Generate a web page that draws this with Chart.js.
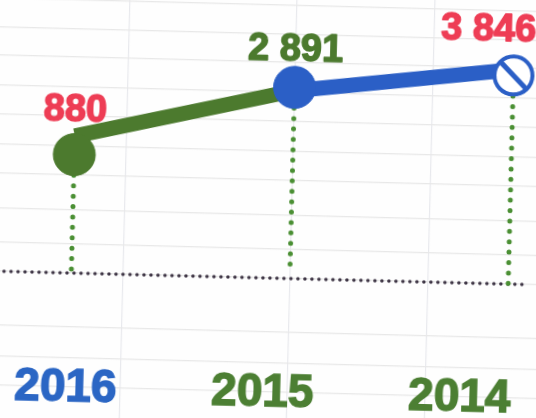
<!DOCTYPE html>
<html><head><meta charset="utf-8">
<style>
html,body{margin:0;padding:0;width:536px;height:418px;overflow:hidden;background:#fefefe}
#wrap{position:absolute;left:-32px;top:-31px;width:600px;height:480px;transform:rotate(1.45deg);transform-origin:300px 240px}
</style>
<script src="https://cdn.jsdelivr.net/npm/chart.js@4/dist/chart.umd.min.js"></script>
</head><body>
<div id="wrap"><canvas id="c" width="600" height="480"></canvas></div>
<script>
const years = [2016, 2015, 2014];
const values = [880, 2891, 3846];
const valueLabels = ['880', '2 891', '3 846'];
const greenLine = [1195, 2740, null];
const blueLine = [null, 2740, 4223];
const stemEnds = [117, 158, 125];
const baselineX = [2016.5, 2013.92];
const baselineY = [127, 127];
const horizontalGrid = [19.9, 31.8, 52.8, 127, 207, 356, 639, 1026, 1671, 2679, 4375, 6902, 11060];
const verticalGrid = [2015.763, 2015, 2014.368];

const GREEN = '#4c7a2e', BLUE = '#2b5fc6', RED = '#ee3d55', DOT = '#4a8f33';
const yearColors = {2016: '#2b66c4', 2015: '#4c7f33', 2014: '#4c7f33'};
const labelColors = [RED, GREEN, RED];
const labelOffsets = [[0, -44], [0, -37], [-26, -45]];
const pts = arr => arr.map((v, i) => ({x: years[i], y: v}));

const stems = years.map((yr, i) => ({
  data: [{x: yr, y: values[i]}, {x: yr, y: stemEnds[i]}],
  borderColor: DOT, borderWidth: 5, borderDash: [0, 10.4], borderCapStyle: 'round',
  pointRadius: 0, order: 8
}));

const valueLabelPlugin = {
  id: 'valueLabels',
  afterDatasetsDraw(chart) {
    const {ctx, scales} = chart;
    ctx.save();
    ctx.font = 'bold 38px "Liberation Sans"';
    ctx.textAlign = 'center';
    ctx.textBaseline = 'middle';
    ctx.lineWidth = 1.5;
    ctx.lineJoin = 'round';
    valueLabels.forEach((t, i) => {
      ctx.fillStyle = labelColors[i];
      ctx.strokeStyle = labelColors[i];
      const px = scales.x.getPixelForValue(years[i]) + labelOffsets[i][0];
      const py = scales.y.getPixelForValue(values[i]) + labelOffsets[i][1];
      ctx.fillText(t, px, py);
      ctx.strokeText(t, px, py);
    });
    ctx.restore();
  }
};

new Chart(document.getElementById('c'), {
  type: 'line',
  data: {datasets: [
    {data: pts(values), pointStyle: 'circle', showLine: false, order: 1,
     pointRadius: [21, 21, 19], pointBackgroundColor: [GREEN, BLUE, '#ffffff'],
     pointBorderColor: [GREEN, BLUE, BLUE], pointBorderWidth: [1, 1, 4]},
    {data: [{x: years[2], y: values[2]}], pointStyle: 'line', pointRotation: 45, showLine: false, order: 0,
     pointRadius: 20, pointBorderColor: BLUE, pointBorderWidth: 5},
    {data: pts(blueLine), borderColor: BLUE, borderWidth: 15, pointRadius: 0, order: 3},
    {data: pts(greenLine), borderColor: GREEN, borderWidth: 15, pointRadius: 0, order: 4},
    ...stems,
    {data: baselineX.map((x, i) => ({x, y: baselineY[i]})), borderColor: '#3d3444', borderWidth: 3.5,
     borderDash: [0, 7], borderCapStyle: 'round', pointRadius: 0, order: 9}
  ]},
  options: {
    responsive: false, animation: false,
    layout: {padding: 0, autoPadding: false},
    plugins: {legend: {display: false}, tooltip: {enabled: false}},
    scales: {
      x: {type: 'linear', reverse: true, min: 2013.7346, max: 2016.4805, position: 'bottom',
        afterBuildTicks: s => { s.ticks = verticalGrid.map(value => ({value})); },
        ticks: {display: false},
        grid: {color: '#e8e9ed', lineWidth: 1.2, drawTicks: false}, border: {display: false}},
      x2: {type: 'linear', reverse: true, min: 2013.472, max: 2016.518, position: {y: 35.7},
        afterBuildTicks: s => { s.ticks = years.map(value => ({value})); },
        afterFit: s => { s.paddingLeft = 0; s.paddingRight = 0; s.paddingTop = 0; s.paddingBottom = 0; },
        ticks: {autoSkip: false, maxRotation: 0, padding: 2,
          callback: v => String(v),
          color: c => yearColors[c.tick.value],
          textStrokeColor: c => yearColors[c.tick.value], textStrokeWidth: 1.5,
          font: {family: '"Liberation Sans"', weight: 'bold', size: 46}},
        grid: {display: false}, border: {display: false}},
      y: {type: 'logarithmic', min: 7.77, max: 19800,
        afterBuildTicks: s => { s.ticks = horizontalGrid.map(value => ({value})); },
        afterFit: s => { s.width = 0; s.paddingTop = 0; s.paddingBottom = 0; },
        ticks: {display: false},
        grid: {color: '#e8e8e8', lineWidth: 1.2, drawTicks: false}, border: {display: false}}
    }
  },
  plugins: [valueLabelPlugin]
});
</script>
</body></html>
